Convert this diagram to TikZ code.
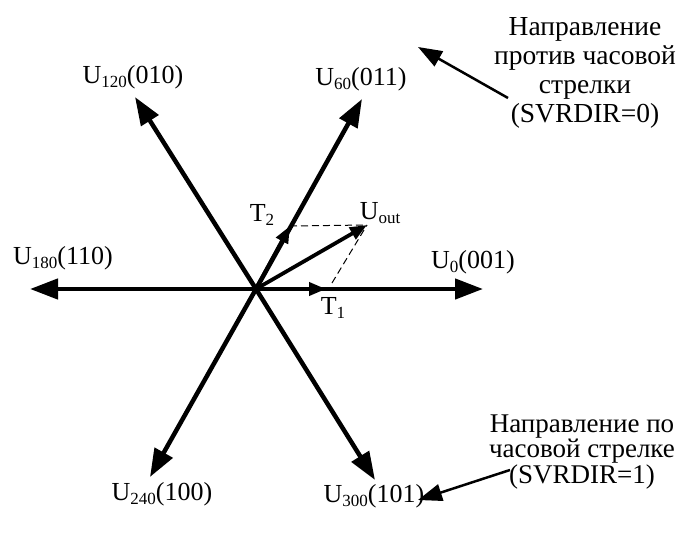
\documentclass[tikz,border=0pt]{standalone}
\usepackage{fontspec}
\setmainfont{Liberation Serif}
\usetikzlibrary{arrows.meta}
\newcommand\subs[1]{\raisebox{-4pt}{\fontsize{17}{17}\selectfont #1}}
\begin{document}
\begin{tikzpicture}[x=1pt,y=-1pt,
  lbl/.style={inner sep=0pt,font=\fontsize{26}{30}\selectfont},
  big/.style={line width=4.5pt,-{Triangle[length=28pt,width=20pt]}},
  small/.style={line width=3.8pt,-{Triangle[length=17pt,width=13pt]}},
  dirarrow/.style={line width=2.5pt,-{Triangle[length=24pt,width=17pt]}},
  dsh/.style={line width=1pt,dash pattern=on 7pt off 4pt}]
\useasboundingbox (0,0) rectangle (681,538);
\coordinate (O) at (256,289);
\coordinate (E0) at (483,289);
\coordinate (E60) at (362,99);
\coordinate (E120) at (135,97);
\coordinate (E180) at (30,289);
\coordinate (E240) at (150,477);
\coordinate (E300) at (375,480);
\coordinate (T1) at (326,289);
\coordinate (T2) at (290,226);
\coordinate (Uo) at (367,225);
\coordinate (D1) at (332,283);
% dashed construction lines
\draw[dsh] (T2) -- (Uo);
\draw[dsh] (D1) -- (Uo);
% main vectors
\foreach \e in {E0,E60,E120,E180,E240,E300}
  \draw[big] (O) -- (\e);
\draw[small] (O) -- (T1);
\draw[small] (O) -- (T2);
\draw[small] (O) -- (Uo);
% labels
\node[lbl] (l120) at (133,77) {U\subs{120}(010)};
\node[lbl] (l60) at (361,79) {U\subs{60}(011)};
\node[lbl] (l180) at (63,258) {U\subs{180}(110)};
\node[lbl] (l0) at (473,262) {U\subs{0}(001)};
\node[lbl] (l240) at (162,494) {U\subs{240}(100)};
\node[lbl] (l300) at (374,496) {U\subs{300}(101)};
\node[lbl] (lt2) at (262,215) {T\subs{2}};
\node[lbl] (lt1) at (333,308) {T\subs{1}};
\node[lbl] (luo) at (380,213) {U\subs{out}};
% direction notes
\node[lbl,align=center,font=\fontsize{27.5}{29}\selectfont] (ccw) at (585,73)
  {Направление\\против часовой\\стрелки\\(SVRDIR=0)};
\node[lbl,align=center,font=\fontsize{27}{25.5}\selectfont] (cw) at (582,452)
  {Направление по\\часовой стрелке\\(SVRDIR=1)};
\coordinate (a1s) at (508,98);
\coordinate (a1e) at (418,47);
\coordinate (a2s) at (510,470);
\coordinate (a2e) at (418,500);
\draw[dirarrow] (a1s) -- (a1e);
\draw[dirarrow] (a2s) -- (a2e);
\end{tikzpicture}
\end{document}
